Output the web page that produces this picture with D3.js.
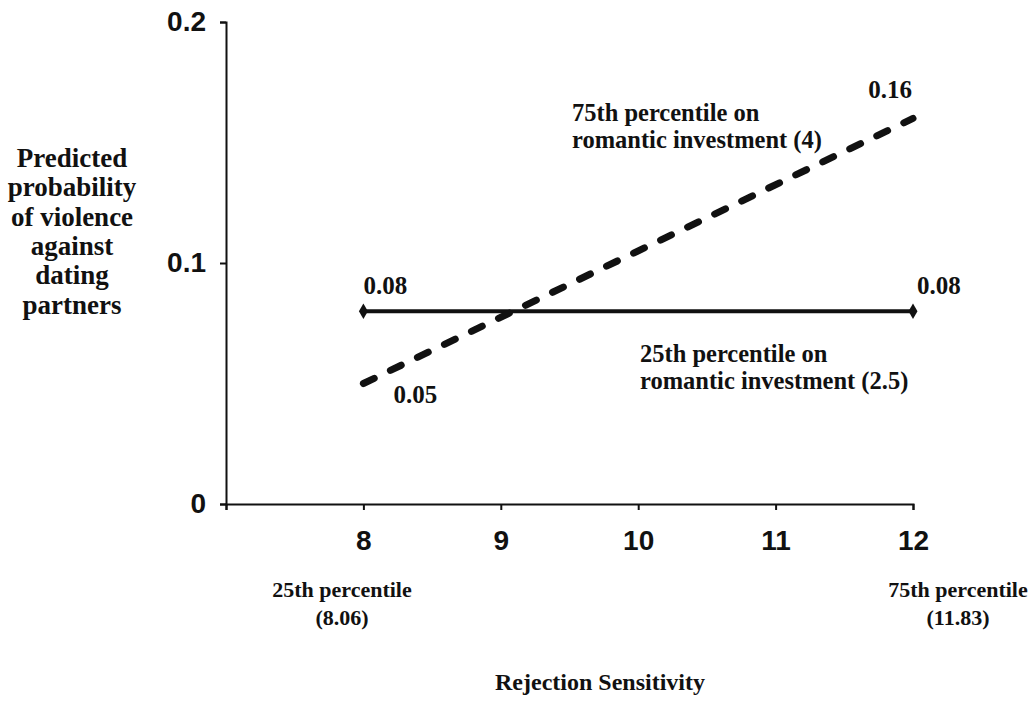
<!DOCTYPE html>
<html><head><meta charset="utf-8">
<script src="https://cdn.jsdelivr.net/npm/d3@7"></script>
<style>
body{margin:0;background:#fff;}
svg{display:block;}
.serif{font-family:"Liberation Serif","Times New Roman",serif;font-weight:bold;fill:#111;}
.sans{font-family:"Liberation Sans",Arial,sans-serif;font-weight:bold;fill:#111;}
</style>
</head><body>
<svg id="chart" width="1036" height="702"></svg>
<script>
// ---- data ----
const rsValues = [8, 12];                 // Rejection Sensitivity
const lowInvestment = [0.08, 0.08];        // 25th percentile on romantic investment (2.5)
const highInvestment = [0.05, 0.16];       // 75th percentile on romantic investment (4)
const xTicks = [7, 8, 9, 10, 11, 12];
const xTickLabels = ["", "8", "9", "10", "11", "12"];
const yTicks = [0, 0.1, 0.2];
const yTickLabels = ["0", "0.1", "0.2"];
const yTitleLines = ["Predicted", "probability", "of violence", "against", "dating", "partners"];
const lowLabel = ["25th percentile on", "romantic investment (2.5)"];
const highLabel = ["75th percentile on", "romantic investment (4)"];
const pctLeft = ["25th percentile", "(8.06)"];
const pctRight = ["75th percentile", "(11.83)"];
const xTitle = "Rejection Sensitivity";

const svg = d3.select("#chart");
const x = d3.scaleLinear().domain([7, 12]).range([226, 913]);
const y = d3.scaleLinear().domain([0, 0.2]).range([504, 22]);

// axes
const yAxis = d3.axisLeft(y).tickValues(yTicks).tickSize(6).tickPadding(14)
  .tickFormat((d, i) => yTickLabels[i]);
const gy = svg.append("g").attr("transform", `translate(${x(7)},0)`).call(yAxis);
gy.select(".domain").attr("stroke", "#111").attr("stroke-width", 2);
gy.selectAll(".tick line").attr("stroke", "#111").attr("stroke-width", 2);
gy.selectAll(".tick text").attr("class", "sans").attr("font-size", 28).attr("fill", "#111");

const xAxis = d3.axisBottom(x).tickValues(xTicks).tickSize(6).tickPadding(20)
  .tickFormat((d, i) => xTickLabels[i]);
const gx = svg.append("g").attr("transform", `translate(0,${y(0)})`).call(xAxis);
gx.select(".domain").attr("stroke", "#111").attr("stroke-width", 2);
gx.selectAll(".tick line").attr("stroke", "#111").attr("stroke-width", 2);
gx.selectAll(".tick text").attr("class", "sans").attr("font-size", 28).attr("fill", "#111");

// lines
const line = d3.line().x(d => x(d[0])).y(d => y(d[1]));
const lowData = rsValues.map((v, i) => [v, lowInvestment[i]]);
const highData = rsValues.map((v, i) => [v, highInvestment[i]]);

svg.append("path").datum(lowData).attr("d", line)
  .attr("fill", "none").attr("stroke", "#111").attr("stroke-width", 4);
svg.selectAll(".lowpt").data(lowData).enter().append("path")
  .attr("d", d3.symbol().type(d3.symbolDiamond).size(70))
  .attr("transform", d => `translate(${x(d[0])},${y(d[1])})`).attr("fill", "#111");

svg.append("path").datum(highData).attr("d", line)
  .attr("fill", "none").attr("stroke", "#111").attr("stroke-width", 7)
  .attr("stroke-linecap", "round").attr("stroke-dasharray", "12,18");

// value labels
const vlabels = [
  {x: x(rsValues[0]), y: y(lowInvestment[0]) - 17, t: lowInvestment[0].toFixed(2), a: "start"},
  {x: x(rsValues[1]) + 4, y: y(lowInvestment[1]) - 17, t: lowInvestment[1].toFixed(2), a: "start"},
  {x: x(rsValues[0]) + 30, y: y(highInvestment[0]) + 19, t: highInvestment[0].toFixed(2), a: "start"},
  {x: x(rsValues[1]) - 1, y: y(highInvestment[1]) - 20, t: highInvestment[1].toFixed(2), a: "end"}
];
svg.selectAll(".vl").data(vlabels).enter().append("text")
  .attr("class", "serif").attr("font-size", 25)
  .attr("x", d => d.x).attr("y", d => d.y).attr("text-anchor", d => d.a).text(d => d.t);

function block(lines, xx, yy, lh, anchor, size) {
  svg.append("g").selectAll("text").data(lines).enter().append("text")
    .attr("class", "serif").attr("font-size", size)
    .attr("x", xx).attr("y", (d, i) => yy + i * lh)
    .attr("text-anchor", anchor).text(d => d);
}
block(highLabel, 572, 121, 27, "start", 24.5);
block(lowLabel, 640, 362, 27, "start", 24.5);
block(yTitleLines, 72, 167, 29.3, "middle", 27);
block(pctLeft, 342, 597, 28, "middle", 22);
block(pctRight, 958, 597, 28, "middle", 22);
block([xTitle], 600, 690, 0, "middle", 24);
</script>
</body></html>
